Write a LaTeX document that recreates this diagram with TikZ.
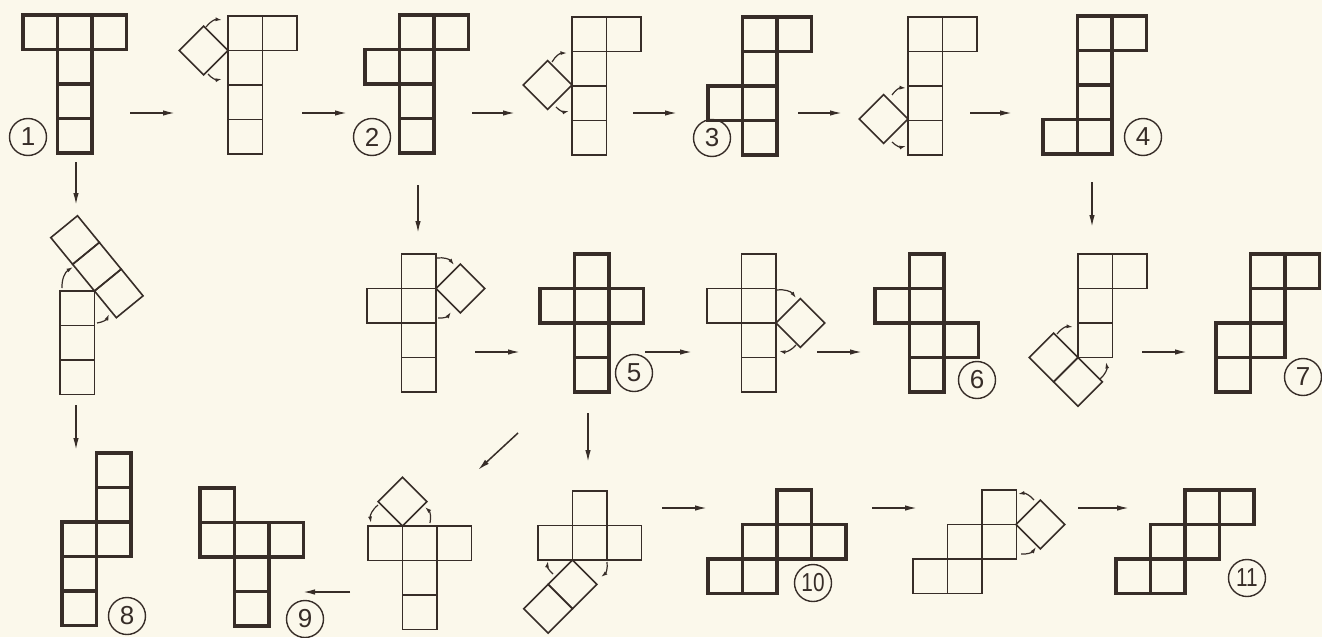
\documentclass[tikz,border=0pt]{standalone}
\usepackage{fontspec}
\setmainfont{Liberation Sans}
\usetikzlibrary{arrows.meta}
\definecolor{paper}{RGB}{251,248,235}
\definecolor{ink}{RGB}{55,45,40}
\newcommand{\cellsz}{34.5}

\begin{document}
\begin{tikzpicture}[x=1pt,y=-1pt,
    netthin/.style={draw=ink,line width=1.6pt},
    netbold/.style={draw=ink,line width=3.8pt},
    num/.style={circle,draw=ink,line width=1.4pt,minimum size=37pt,inner sep=0pt,text=ink,font=\fontsize{26}{26}\selectfont},
    arr/.style={draw=ink,line width=1.5pt,-{Latex[length=12pt,width=5.5pt]}},
    turn/.style={draw=ink,line width=1.2pt,-{Latex[length=6.5pt,width=4pt]}}]
                        \useasboundingbox (0,0) rectangle (1322,637);
                        \fill[paper] (0,0) rectangle (1322,637);

                        % Bold nets
                        \begin{scope}[shift={(23,15)}]
                        \foreach \i/\j in {0/0,1/0,2/0,1/1,1/2,1/3} \draw[netbold] (\i*\cellsz,\j*\cellsz) rectangle ++(\cellsz,\cellsz);
                        \end{scope}
                        \begin{scope}[shift={(365,15)}]
                        \foreach \i/\j in {1/0,2/0,0/1,1/1,1/2,1/3} \draw[netbold] (\i*\cellsz,\j*\cellsz) rectangle ++(\cellsz,\cellsz);
                        \end{scope}
                        \begin{scope}[shift={(708,17)}]
                        \foreach \i/\j in {1/0,2/0,1/1,0/2,1/2,1/3} \draw[netbold] (\i*\cellsz,\j*\cellsz) rectangle ++(\cellsz,\cellsz);
                        \end{scope}
                        \begin{scope}[shift={(1043,16)}]
                        \foreach \i/\j in {1/0,2/0,1/1,1/2,0/3,1/3} \draw[netbold] (\i*\cellsz,\j*\cellsz) rectangle ++(\cellsz,\cellsz);
                        \end{scope}
                        \begin{scope}[shift={(540,254)}]
                        \foreach \i/\j in {1/0,0/1,1/1,2/1,1/2,1/3} \draw[netbold] (\i*\cellsz,\j*\cellsz) rectangle ++(\cellsz,\cellsz);
                        \end{scope}
                        \begin{scope}[shift={(875,254)}]
                        \foreach \i/\j in {1/0,0/1,1/1,1/2,2/2,1/3} \draw[netbold] (\i*\cellsz,\j*\cellsz) rectangle ++(\cellsz,\cellsz);
                        \end{scope}
                        \begin{scope}[shift={(1216,254)}]
                        \foreach \i/\j in {1/0,2/0,1/1,0/2,1/2,0/3} \draw[netbold] (\i*\cellsz,\j*\cellsz) rectangle ++(\cellsz,\cellsz);
                        \end{scope}
                        \begin{scope}[shift={(62,453)}]
                        \foreach \i/\j in {1/0,1/1,0/2,1/2,0/3,0/4} \draw[netbold] (\i*\cellsz,\j*\cellsz) rectangle ++(\cellsz,\cellsz);
                        \end{scope}
                        \begin{scope}[shift={(200,488)}]
                        \foreach \i/\j in {0/0,0/1,1/1,2/1,1/2,1/3} \draw[netbold] (\i*\cellsz,\j*\cellsz) rectangle ++(\cellsz,\cellsz);
                        \end{scope}
                        \begin{scope}[shift={(708,490)}]
                        \foreach \i/\j in {2/0,1/1,2/1,3/1,0/2,1/2} \draw[netbold] (\i*\cellsz,\j*\cellsz) rectangle ++(\cellsz,\cellsz);
                        \end{scope}
                        \begin{scope}[shift={(1116,490)}]
                        \foreach \i/\j in {2/0,3/0,1/1,2/1,0/2,1/2} \draw[netbold] (\i*\cellsz,\j*\cellsz) rectangle ++(\cellsz,\cellsz);
                        \end{scope}

                        % Thin nets (folding steps)
                        \begin{scope}[shift={(228,16)}]
                        \foreach \i/\j in {0/0,1/0,0/1,0/2,0/3} \draw[netthin] (\i*\cellsz,\j*\cellsz) rectangle ++(\cellsz,\cellsz);
                        \end{scope}
                        \draw[netthin] (228,50.5) -- ++(-24.4,-24.4) -- ++(-24.4,24.4) -- ++(24.4,24.4) -- cycle;
                        \begin{scope}[shift={(572,17)}]
                        \foreach \i/\j in {0/0,1/0,0/1,0/2,0/3} \draw[netthin] (\i*\cellsz,\j*\cellsz) rectangle ++(\cellsz,\cellsz);
                        \end{scope}
                        \draw[netthin] (572,85) -- ++(-24.4,-24.4) -- ++(-24.4,24.4) -- ++(24.4,24.4) -- cycle;
                        \begin{scope}[shift={(908,17)}]
                        \foreach \i/\j in {0/0,1/0,0/1,0/2,0/3} \draw[netthin] (\i*\cellsz,\j*\cellsz) rectangle ++(\cellsz,\cellsz);
                        \end{scope}
                        \draw[netthin] (908,119) -- ++(-24.4,-24.4) -- ++(-24.4,24.4) -- ++(24.4,24.4) -- cycle;
                        \begin{scope}[shift={(60,291)}]
                        \foreach \i/\j in {0/0,0/1,0/2} \draw[netthin] (\i*\cellsz,\j*\cellsz) rectangle ++(\cellsz,\cellsz);
                        \end{scope}
                        \begin{scope}[shift={(94.5,291)},rotate=-50.7]
                        \foreach \i in {-2,-1,0} \draw[netthin] (\i*\cellsz,-\cellsz) rectangle ++(\cellsz,\cellsz);
                        \end{scope}
                        \begin{scope}[shift={(367,254)}]
                        \foreach \i/\j in {1/0,0/1,1/1,1/2,1/3} \draw[netthin] (\i*\cellsz,\j*\cellsz) rectangle ++(\cellsz,\cellsz);
                        \end{scope}
                        \draw[netthin] (436,288.5) -- ++(24.4,-24.4) -- ++(24.4,24.4) -- ++(-24.4,24.4) -- cycle;
                        \begin{scope}[shift={(707,254)}]
                        \foreach \i/\j in {1/0,0/1,1/1,1/2,1/3} \draw[netthin] (\i*\cellsz,\j*\cellsz) rectangle ++(\cellsz,\cellsz);
                        \end{scope}
                        \draw[netthin] (776,323) -- ++(24.4,-24.4) -- ++(24.4,24.4) -- ++(-24.4,24.4) -- cycle;
                        \begin{scope}[shift={(1078,254)}]
                        \foreach \i/\j in {0/0,1/0,0/1,0/2} \draw[netthin] (\i*\cellsz,\j*\cellsz) rectangle ++(\cellsz,\cellsz);
                        \end{scope}
                        \begin{scope}[shift={(1078,357.5)},rotate=-45]
                        \foreach \i in {-1,0} \draw[netthin] (\i*\cellsz,0) rectangle ++(\cellsz,\cellsz);
                        \end{scope}
                        \begin{scope}[shift={(368,491.5)}]
                        \foreach \i/\j in {0/1,1/1,2/1,1/2,1/3} \draw[netthin] (\i*\cellsz,\j*\cellsz) rectangle ++(\cellsz,\cellsz);
                        \end{scope}
                        \draw[netthin] (402.5,526) -- ++(-24.4,-24.4) -- ++(24.4,-24.4) -- ++(24.4,24.4) -- cycle;
                        \begin{scope}[shift={(538,491)}]
                        \foreach \i/\j in {1/0,0/1,1/1,2/1} \draw[netthin] (\i*\cellsz,\j*\cellsz) rectangle ++(\cellsz,\cellsz);
                        \end{scope}
                        \begin{scope}[shift={(572.5,560)},rotate=45]
                        \foreach \i in {-2,-1} \draw[netthin] (\i*\cellsz,0) rectangle ++(\cellsz,\cellsz);
                        \end{scope}
                        \begin{scope}[shift={(913,490)}]
                        \foreach \i/\j in {2/0,1/1,2/1,0/2,1/2} \draw[netthin] (\i*\cellsz,\j*\cellsz) rectangle ++(\cellsz,\cellsz);
                        \end{scope}
                        \draw[netthin] (1016,524.5) -- ++(24.4,-24.4) -- ++(24.4,24.4) -- ++(-24.4,24.4) -- cycle;

                        % Labels
                        \node[num] (n1) at (28,137) {1};
                        \node[num] (n2) at (372,137) {2};
                        \node[num] (n3) at (712,138) {3};
                        \node[num] (n4) at (1143,137) {4};
                        \node[num] (n5) at (634,373) {5};
                        \node[num] (n6) at (977,380) {6};
                        \node[num] (n7) at (1303,377) {7};
                        \node[num] (n8) at (127,616) {8};
                        \node[num] (n9) at (305,619) {9};
                        \node[num] (n10) at (813,583) {\scalebox{0.8}[1]{10}};
                        \node[num] (n11) at (1247,578) {\scalebox{0.8}[1]{11}};

                        % Arrow ends
                        \coordinate (r1a) at (130,113); \coordinate (r1b) at (175,113);
                        \coordinate (r2a) at (302,113); \coordinate (r2b) at (347,113);
                        \coordinate (r3a) at (472,113); \coordinate (r3b) at (515,113);
                        \coordinate (r4a) at (633,113); \coordinate (r4b) at (677,113);
                        \coordinate (r5a) at (798,113); \coordinate (r5b) at (842,113);
                        \coordinate (r6a) at (970,113); \coordinate (r6b) at (1012,113);
                        \coordinate (d1a) at (76,162); \coordinate (d1b) at (76,205);
                        \coordinate (d2a) at (76,405); \coordinate (d2b) at (76,450);
                        \coordinate (d3a) at (418,185); \coordinate (d3b) at (418,233);
                        \coordinate (r7a) at (475,352); \coordinate (r7b) at (520,352);
                        \coordinate (r8a) at (645,352); \coordinate (r8b) at (692,352);
                        \coordinate (r9a) at (817,352); \coordinate (r9b) at (862,352);
                        \coordinate (d4a) at (1092,182); \coordinate (d4b) at (1092,227);
                        \coordinate (r10a) at (1142,352); \coordinate (r10b) at (1187,352);
                        \coordinate (d5a) at (588,413); \coordinate (d5b) at (588,462);
                        \coordinate (g1a) at (518,433); \coordinate (g1b) at (478,470);
                        \coordinate (l1a) at (350,592); \coordinate (l1b) at (303,592);
                        \coordinate (r11a) at (662,508); \coordinate (r11b) at (707,508);
                        \coordinate (r12a) at (872,508); \coordinate (r12b) at (917,508);
                        \coordinate (r13a) at (1078,508); \coordinate (r13b) at (1129,508);

                        % Arrows
                        \foreach \a in {r1,r2,r3,r4,r5,r6,d1,d2,d3,r7,r8,r9,d4,r10,d5,g1,l1,r11,r12,r13}
                            \draw[arr] (\a a) -- (\a b);

                        % Turning arrows
                        \draw[turn] (206,27) to[bend left=30] (222,20);
                        \draw[turn] (208,74) to[bend right=30] (222,79);
                        \draw[turn] (552,62) to[bend left=30] (567,53);
                        \draw[turn] (556,107) to[bend right=30] (569,111);
                        \draw[turn] (892,95) to[bend left=30] (906,88);
                        \draw[turn] (892,142) to[bend right=30] (906,146);
                        \draw[turn] (62,288) to[bend left=30] (73,267);
                        \draw[turn] (97,323) to[bend right=30] (109,314);
                        \draw[turn] (437,258) to[bend left=30] (454,265);
                        \draw[turn] (438,318) to[bend right=30] (451,312);
                        \draw[turn] (777,290) to[bend left=30] (796,298);
                        \draw[turn] (796,345) to[bend left=30] (779,351);
                        \draw[turn] (1057,334) to[bend left=30] (1073,327);
                        \draw[turn] (1100,379) to[bend right=30] (1106,362);
                        \draw[turn] (378,505) to[bend right=30] (371,523);
                        \draw[turn] (430,523) to[bend right=30] (425,507);
                        \draw[turn] (553,574) to[bend left=30] (548,561);
                        \draw[turn] (607,562) to[bend left=30] (601,577);
                        \draw[turn] (1034,500) to[bend right=30] (1018,494);
                        \draw[turn] (1021,554) to[bend right=30] (1036,547);
                    \end{tikzpicture}
\end{document}
